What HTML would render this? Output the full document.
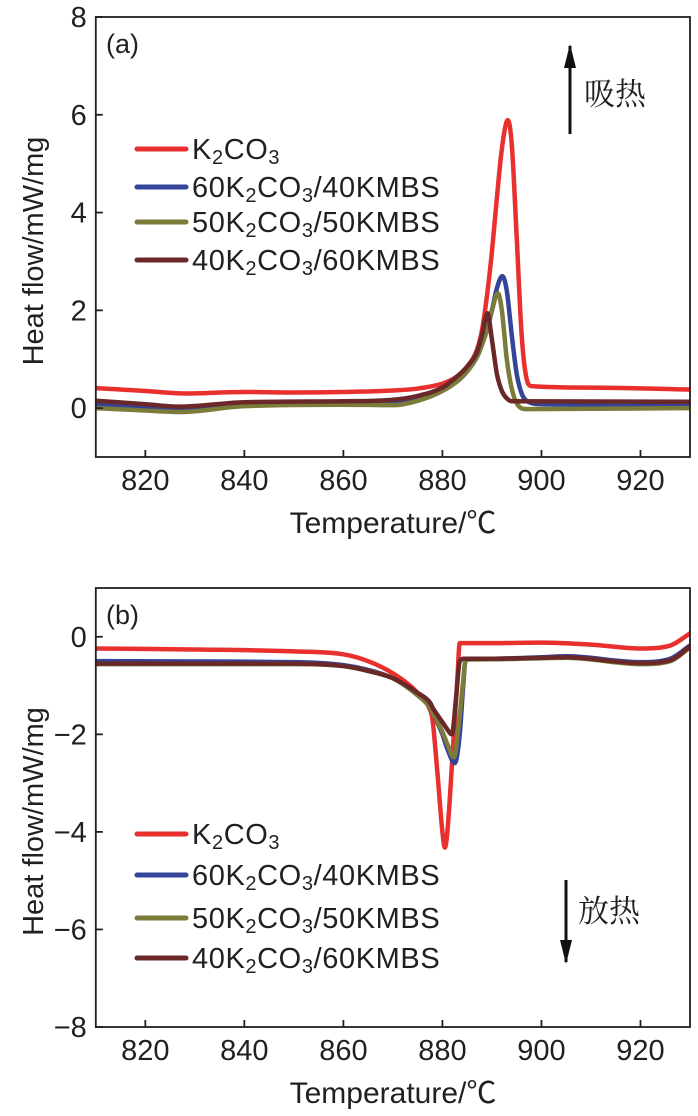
<!DOCTYPE html>
<html><head><meta charset="utf-8"><style>
body{margin:0;background:#fff}
svg{display:block;font-family:"Liberation Sans","Noto Sans CJK SC",sans-serif}
</style></head><body>
<svg id="fig" width="698" height="1116" viewBox="0 0 698 1116"></svg>
<script>
// ---- chart (a) data ----
const aRedT=[810,820,828,840,850,860,870,875,880,883,885,887,888,889,890,891,892,893.2,894,895,896,897,898,910,930];
const aRedV=[0.41,0.35,0.3,0.33,0.32,0.33,0.36,0.4,0.5,0.65,0.85,1.2,1.6,2.3,3.2,4.3,5.3,5.89,5.4,3.5,1.5,0.6,0.45,0.42,0.38];
const aBlueT=[810,827,840,860,870,875,880,883,885,887,888,889,890,891,892.1,893,894,895,896,897,900,930];
const aBlueV=[0.08,-0.02,0.08,0.1,0.1,0.18,0.37,0.55,0.75,1.05,1.3,1.6,2.0,2.45,2.7,2.4,1.5,0.7,0.3,0.15,0.08,0.06];
const aOliveT=[810,820,827,840,860,870,875,880,883,885,887,888,889,890,891.2,892,893,894,895,897,930];
const aOliveV=[0.0,-0.05,-0.08,0.04,0.07,0.06,0.15,0.35,0.55,0.75,1.05,1.3,1.6,2.0,2.35,2.0,1.0,0.4,0.1,-0.02,0.0];
const aBrownT=[810,820,827,840,860,870,875,880,883,885,887,888,889.1,890,891,892,893,894,930];
const aBrownV=[0.15,0.08,0.03,0.12,0.14,0.17,0.25,0.42,0.65,0.85,1.15,1.5,1.94,1.4,0.7,0.35,0.2,0.14,0.13];
// ---- chart (b) data ----
const bRedT=[810,830,850,860,865,870,875,877.5,878,879,880,880.5,881,882,883,883.5,890,900,910,920,926,930];
const bRedV=[-0.24,-0.26,-0.3,-0.36,-0.5,-0.75,-1.15,-1.5,-1.7,-2.8,-4.0,-4.32,-4.0,-2.5,-0.9,-0.13,-0.13,-0.12,-0.16,-0.24,-0.18,0.07];
const bBlueT=[810,850,860,865,870,875,877.5,878,880,881,882.5,883.5,884.2,884.7,890,900,905,920,926,930];
const bBlueV=[-0.5,-0.52,-0.58,-0.68,-0.85,-1.2,-1.45,-1.55,-2.0,-2.3,-2.59,-2.0,-1.0,-0.46,-0.45,-0.42,-0.4,-0.52,-0.45,-0.18];
const bOliveT=[810,850,860,865,870,875,877.5,878,880,881,882.3,883.3,884.2,884.7,890,900,905,920,926,930];
const bOliveV=[-0.56,-0.56,-0.6,-0.7,-0.85,-1.2,-1.45,-1.55,-1.95,-2.2,-2.47,-1.8,-0.9,-0.47,-0.46,-0.44,-0.43,-0.56,-0.5,-0.22];
const bBrownT=[810,850,860,865,870,875,877.5,878,880,881,881.9,882.8,883.5,884.3,890,900,905,920,926,930];
const bBrownV=[-0.55,-0.55,-0.6,-0.7,-0.85,-1.15,-1.35,-1.45,-1.75,-1.9,-2.0,-1.2,-0.5,-0.45,-0.45,-0.43,-0.42,-0.54,-0.48,-0.2];
const xTicks=[820,840,860,880,900,920];
const aYTicks=[0,2,4,6,8];
const bYTicks=[0,-2,-4,-6,-8];
const seriesNames=["K2CO3","60K2CO3/40KMBS","50K2CO3/50KMBS","40K2CO3/60KMBS"];
const colors=["#e8312f","#34449a","#7b7b3a","#6a2828"];

const NS="http://www.w3.org/2000/svg";
const svg=document.getElementById('fig');
function el(tag,attrs,parent){const e=document.createElementNS(NS,tag);for(const k in attrs)e.setAttribute(k,attrs[k]);(parent||svg).appendChild(e);return e;}

function monoPath(xs,ys){
  const n=xs.length;const d=[],m=[];
  for(let i=0;i<n-1;i++)d.push((ys[i+1]-ys[i])/(xs[i+1]-xs[i]));
  m[0]=d[0];m[n-1]=d[n-2];
  for(let i=1;i<n-1;i++){m[i]=(d[i-1]*d[i]<=0)?0:(d[i-1]+d[i])/2;}
  for(let i=0;i<n-1;i++){
    if(d[i]===0){m[i]=0;m[i+1]=0;continue;}
    const a=m[i]/d[i],b=m[i+1]/d[i],s=a*a+b*b;
    if(s>9){const t=3/Math.sqrt(s);m[i]=t*a*d[i];m[i+1]=t*b*d[i];}
  }
  let p='M'+xs[0].toFixed(2)+','+ys[0].toFixed(2);
  for(let i=0;i<n-1;i++){
    const h=(xs[i+1]-xs[i])/3;
    p+='C'+(xs[i]+h).toFixed(2)+','+(ys[i]+m[i]*h).toFixed(2)+' '+(xs[i+1]-h).toFixed(2)+','+(ys[i+1]-m[i+1]*h).toFixed(2)+' '+xs[i+1].toFixed(2)+','+ys[i+1].toFixed(2);
  }
  return p;
}

function chart(cfg){
  const g=el('g',{});
  
  
  const L=95.8,R=690,T=cfg.top,B=cfg.bottom;
  const xS=t=>L+(t-810)/(930-810)*(R-L);
  const yS=v=>B-(v-cfg.ymin)/(cfg.ymax-cfg.ymin)*(B-T);
  const cid='clip-'+cfg.label.replace(/\W/g,'');
  const clip=el('clipPath',{id:cid},g);
  el('rect',{x:L,y:T,width:R-L,height:B-T},clip);
  cfg.series.forEach((s,i)=>{
    const p=el('path',{d:monoPath(s.t.map(xS),s.v.map(yS)),fill:'none',stroke:colors[i],'stroke-width':4.5,'stroke-linejoin':'round','stroke-linecap':'round','clip-path':'url(#'+cid+')'},g);
    
    
  });
  const fr=el('rect',{x:L,y:T,width:R-L,height:B-T,fill:'none',stroke:'#231f20','stroke-width':1.8},g);
  
  
  xTicks.forEach(t=>{
    el('line',{x1:xS(t),x2:xS(t),y1:B,y2:B-7,stroke:'#231f20','stroke-width':1.8},g);
    const tx=el('text',{x:xS(t),y:B+33,'font-size':29,'text-anchor':'middle',fill:'#231f20'},g);
    tx.textContent=t;
    
    
  });
  cfg.yTicks.forEach(v=>{
    el('line',{x1:L,x2:L+7,y1:yS(v),y2:yS(v),stroke:'#231f20','stroke-width':1.8},g);
    const tx=el('text',{x:L-9,y:yS(v)+10,'font-size':29,'text-anchor':'end',fill:'#231f20'},g);
    tx.textContent=v<0?'\u2212'+(-v):v;
    
    
  });
  const xt=el('text',{x:393,y:B+76,'font-size':30,'text-anchor':'middle',fill:'#231f20'},g);
  xt.textContent='Temperature/\u2103';
  
  
  const cy=(T+B)/2;
  const yt=el('text',{x:0,y:0,'font-size':29,'text-anchor':'middle',fill:'#231f20',transform:`translate(43,${cy+14}) rotate(-90)`},g);
  yt.textContent='Heat flow/mW/mg';
  
  
  const pl=el('text',{x:106,y:T+36,'font-size':27,fill:'#231f20'},g);
  pl.textContent=cfg.label;
  
  
  cfg.legendY.forEach((y,i)=>{
    const lg=el('g',{},g);
    
    
    el('line',{x1:137,x2:186,y1:y,y2:y,stroke:colors[i],'stroke-width':5,'stroke-linecap':'round'},lg);
    const tx=el('text',{x:192,y:y+10,'font-size':29,'letter-spacing':0.6,fill:'#231f20'},lg);
    const nm=seriesNames[i];
    const m=nm.match(/^(\d*K)2(CO)3(.*)$/);
    tx.appendChild(document.createTextNode(m[1]));
    const s1=el('tspan',{'font-size':20,dy:5},tx);s1.textContent='2';
    const s2=el('tspan',{dy:-5},tx);s2.textContent=m[2];
    const s3=el('tspan',{'font-size':20,dy:5},tx);s3.textContent='3';
    const s4=el('tspan',{dy:-5},tx);s4.textContent=m[3];
  });
  const a=cfg.arrow;
  const ag=el('g',{},g);
  
  
  el('line',{x1:a.x,x2:a.x,y1:a.y1,y2:a.y2,stroke:'#111','stroke-width':3},ag);
  const dir=a.y2<a.y1?1:-1;
  el('polygon',{points:`${a.x},${a.y2-dir*2} ${a.x-6},${a.y2+dir*22} ${a.x+6},${a.y2+dir*22}`,fill:'#111'},ag);
  const at=el('text',{x:a.tx,y:a.ty,'font-size':31,fill:'#231f20','font-family':'"Noto Serif CJK SC",serif'},ag);
  at.textContent=a.text;
}

chart({name:'chart-a-heating',top:17,bottom:457,ymin:-1,ymax:8,yTicks:aYTicks,label:'(a)',
  series:[{t:aRedT,v:aRedV},{t:aBlueT,v:aBlueV},{t:aOliveT,v:aOliveV},{t:aBrownT,v:aBrownV}],
  legendY:[149,187,222,260],arrowName:'endothermic-arrow',
  arrow:{x:570,y1:134,y2:46,tx:584,ty:105,text:'吸热'}});
chart({name:'chart-b-cooling',top:588,bottom:1027,ymin:-8,ymax:1,yTicks:bYTicks,label:'(b)',
  series:[{t:bRedT,v:bRedV},{t:bBlueT,v:bBlueV},{t:bOliveT,v:bOliveV},{t:bBrownT,v:bBrownV}],
  legendY:[834,875,918,958],arrowName:'exothermic-arrow',
  arrow:{x:566,y1:880,y2:962,tx:578,ty:922,text:'放热'}});
</script>
</body></html>
